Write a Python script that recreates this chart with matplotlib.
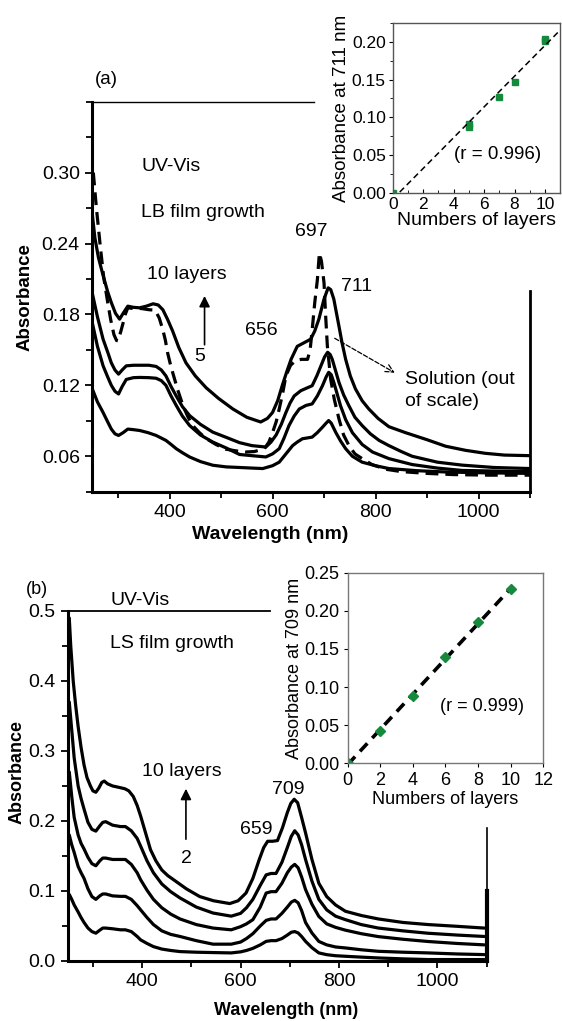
import numpy as np
import matplotlib
matplotlib.use('Agg')
import matplotlib.pyplot as plt
from matplotlib.ticker import MultipleLocator

plt.rcParams['font.family'] = ['Liberation Sans', 'DejaVu Sans']

# ---------------- panel (a): LB films 5, 7, 8, 10 layers + solution ----------------
wl_a10 = [250, 255, 262, 271, 280, 287, 295, 303, 310, 319, 330, 342, 355, 368, 378, 387,
          396, 406, 418, 432, 450, 471, 495, 523, 550, 577, 590, 600, 610, 619, 628, 636,
          648, 661, 674, 682, 690, 700, 708, 713, 719, 729, 735, 742, 751, 761, 774, 787,
          805, 826, 858, 900, 936, 975, 1013, 1050, 1100]
abs_a10 = [0.265, 0.245, 0.228, 0.213, 0.199, 0.190, 0.181, 0.176, 0.181, 0.187, 0.186,
           0.1856, 0.187, 0.189, 0.188, 0.184, 0.176, 0.166, 0.152, 0.139, 0.128, 0.118,
           0.109, 0.100, 0.093, 0.089, 0.092, 0.097, 0.107, 0.120, 0.132, 0.142, 0.153,
           0.156, 0.159, 0.166, 0.176, 0.193, 0.2025, 0.201, 0.193, 0.170, 0.156, 0.142,
           0.128, 0.117, 0.107, 0.100, 0.092, 0.085, 0.080, 0.074, 0.0685, 0.065, 0.0625,
           0.061, 0.0605]

wl_a8 = [250, 260, 271, 280, 287, 294, 301, 308, 316, 330, 342, 360, 374, 384, 393, 403,
         413, 425, 439, 460, 484, 510, 536, 560, 587, 597, 607, 617, 626, 634, 642, 655,
         677, 686, 694, 701, 707, 712, 716, 722, 729, 738, 748, 760, 774, 790, 807, 826,
         850, 871, 920, 968, 1030, 1100]
abs_a8 = [0.198, 0.178, 0.159, 0.148, 0.139, 0.133, 0.1295, 0.133, 0.1365, 0.137, 0.137,
          0.137, 0.136, 0.133, 0.128, 0.119, 0.111, 0.102, 0.0944, 0.087, 0.0804, 0.076,
          0.0715, 0.069, 0.0678, 0.072, 0.078, 0.087, 0.097, 0.105, 0.111, 0.1155, 0.1197,
          0.128, 0.1365, 0.144, 0.148, 0.146, 0.142, 0.133, 0.1225, 0.112, 0.103, 0.093,
          0.086, 0.079, 0.0734, 0.069, 0.064, 0.060, 0.055, 0.0525, 0.0505, 0.0496]

wl_a7 = [250, 260, 271, 280, 287, 294, 301, 308, 316, 330, 342, 360, 374, 384, 393, 403,
         413, 425, 439, 460, 484, 510, 536, 560, 587, 600, 613, 622, 632, 642, 652, 665,
         677, 687, 697, 704, 709, 714, 719, 726, 732, 742, 755, 774, 794, 826, 871, 920,
         968, 1030, 1100]
abs_a7 = [0.173, 0.153, 0.1365, 0.127, 0.120, 0.115, 0.1127, 0.119, 0.125, 0.1265, 0.1267,
          0.1265, 0.126, 0.124, 0.120, 0.111, 0.103, 0.094, 0.086, 0.078, 0.072, 0.067,
          0.0615, 0.0605, 0.0594, 0.062, 0.0664, 0.075, 0.086, 0.094, 0.100, 0.103,
          0.1043, 0.111, 0.1197, 0.127, 0.131, 0.129, 0.1225, 0.112, 0.1028, 0.091, 0.080,
          0.070, 0.0636, 0.058, 0.053, 0.050, 0.048, 0.0475, 0.047]

wl_a5 = [250, 260, 271, 280, 287, 294, 301, 310, 319, 330, 342, 358, 374, 393, 403, 413,
         425, 439, 460, 484, 510, 536, 560, 581, 600, 613, 626, 639, 648, 658, 677, 687,
         697, 704, 709, 714, 723, 732, 742, 755, 774, 800, 826, 880, 936, 1010, 1100]
abs_a5 = [0.117, 0.106, 0.097, 0.089, 0.083, 0.079, 0.0776, 0.080, 0.083, 0.0825, 0.0818,
          0.080, 0.0776, 0.0734, 0.070, 0.0664, 0.063, 0.0594, 0.0555, 0.0524, 0.051,
          0.0505, 0.050, 0.0496, 0.052, 0.055, 0.062, 0.069, 0.072, 0.0748, 0.0762, 0.080,
          0.0846, 0.088, 0.0902, 0.088, 0.080, 0.073, 0.0664, 0.060, 0.055, 0.052, 0.0496,
          0.0478, 0.0467, 0.046, 0.0455]

wl_sol = [252, 258, 265, 272, 280, 286, 292, 297, 300, 305, 310, 314, 319, 330, 345, 360,
          372, 380, 387, 392, 396, 401, 406, 416, 426, 435, 445, 458, 471, 490, 509, 530,
          548, 565, 584, 593, 600, 607, 613, 620, 626, 635, 645, 656, 668, 673, 677, 682,
          687, 691, 695, 700, 703, 706.5, 710, 713, 720, 729, 738, 748.5, 760, 774, 793,
          820, 850, 900, 950, 1020, 1100]
abs_sol = [0.300, 0.270, 0.240, 0.212, 0.190, 0.175, 0.163, 0.158, 0.1576, 0.165, 0.173,
           0.180, 0.1856, 0.185, 0.185, 0.184, 0.1836, 0.177, 0.167, 0.158, 0.148, 0.139,
           0.131, 0.116, 0.103, 0.094, 0.086, 0.080, 0.075, 0.070, 0.066, 0.0645, 0.0636,
           0.064, 0.0664, 0.072, 0.080, 0.089, 0.100, 0.114, 0.128, 0.137, 0.141, 0.142,
           0.142, 0.150, 0.167, 0.190, 0.209, 0.232, 0.225, 0.2067, 0.180, 0.153, 0.138,
           0.125, 0.108, 0.0916, 0.078, 0.069, 0.062, 0.058, 0.053, 0.049, 0.047, 0.0455,
           0.0445, 0.044, 0.044]

layers_a = [0, 5, 5, 7, 8, 10, 10]
abs711 = [0.0, 0.088, 0.091, 0.127, 0.147, 0.201, 0.204]

# ---------------- panel (b): LS films 2, 4, 6, 8, 10 layers ----------------
wl_b10 = [252, 255, 260, 265, 270, 276, 282, 288, 295, 300, 306, 312, 318, 323, 330, 340,
          356, 365, 373, 382, 390, 397, 407, 417, 428, 440, 452, 464, 490, 517, 545, 578,
          595, 611, 625, 638, 647, 655, 665, 675, 685, 695, 702, 709, 716, 724, 732, 745,
          759, 775, 793, 813, 845, 880, 930, 981, 1040, 1095]
abs_b10 = [0.49, 0.45, 0.40, 0.365, 0.335, 0.305, 0.28, 0.262, 0.25, 0.243, 0.241, 0.247,
           0.255, 0.257, 0.253, 0.250, 0.2475, 0.246, 0.243, 0.235, 0.222, 0.207, 0.183,
           0.159, 0.143, 0.130, 0.122, 0.116, 0.103, 0.092, 0.086, 0.082, 0.086, 0.097,
           0.118, 0.145, 0.162, 0.171, 0.171, 0.172, 0.190, 0.212, 0.225, 0.231, 0.226,
           0.205, 0.183, 0.145, 0.111, 0.092, 0.080, 0.071, 0.065, 0.060, 0.055, 0.052,
           0.0495, 0.047]

wl_b = [252, 257, 262, 270, 276, 282, 290, 298, 306, 314, 320, 326, 340, 356, 366, 378,
        390, 397, 410, 423, 440, 458, 477, 510, 544, 581, 600, 612, 625, 640, 652, 662,
        672, 684, 695, 703, 710, 717, 724, 732, 745, 759, 775, 793, 813, 845, 880, 930,
        981, 1040, 1095]
abs_b8 = [0.37, 0.33, 0.29, 0.25, 0.232, 0.217, 0.198, 0.188, 0.1855, 0.193, 0.198, 0.199,
          0.194, 0.192, 0.192, 0.186, 0.175, 0.164, 0.143, 0.126, 0.110, 0.099, 0.090,
          0.077, 0.0685, 0.064, 0.068, 0.076, 0.088, 0.108, 0.123, 0.125, 0.125, 0.141,
          0.162, 0.178, 0.186, 0.180, 0.166, 0.145, 0.114, 0.088, 0.073, 0.064, 0.059,
          0.052, 0.047, 0.043, 0.0396, 0.037, 0.035]
abs_b6 = [0.27, 0.235, 0.205, 0.18, 0.168, 0.160, 0.148, 0.139, 0.136, 0.143, 0.147, 0.147,
          0.145, 0.145, 0.145, 0.138, 0.126, 0.116, 0.101, 0.088, 0.076, 0.067, 0.060,
          0.052, 0.047, 0.0445, 0.049, 0.053, 0.059, 0.077, 0.097, 0.099, 0.099, 0.111,
          0.126, 0.134, 0.138, 0.133, 0.120, 0.102, 0.081, 0.0636, 0.053, 0.048, 0.044,
          0.039, 0.0348, 0.031, 0.0278, 0.025, 0.023]
abs_b4 = [0.18, 0.166, 0.155, 0.135, 0.126, 0.118, 0.103, 0.092, 0.088, 0.093, 0.0957,
          0.0957, 0.093, 0.0923, 0.0923, 0.088, 0.079, 0.073, 0.062, 0.052, 0.043, 0.038,
          0.035, 0.029, 0.024, 0.024, 0.027, 0.032, 0.039, 0.050, 0.058, 0.060, 0.060,
          0.068, 0.077, 0.084, 0.0866, 0.083, 0.072, 0.055, 0.040, 0.0279, 0.023, 0.020,
          0.0186, 0.016, 0.0138, 0.0125, 0.0115, 0.010, 0.0091]
abs_b2 = [0.095, 0.088, 0.080, 0.070, 0.062, 0.055, 0.047, 0.042, 0.0397, 0.044, 0.047,
          0.047, 0.046, 0.0445, 0.0445, 0.042, 0.035, 0.0301, 0.025, 0.0205, 0.017, 0.015,
          0.0134, 0.0125, 0.012, 0.0115, 0.013, 0.015, 0.018, 0.023, 0.028, 0.029, 0.029,
          0.032, 0.037, 0.041, 0.042, 0.040, 0.035, 0.028, 0.019, 0.0115, 0.009, 0.0075,
          0.0067, 0.0055, 0.0043, 0.003, 0.002, 0.002, 0.002]

layers_b = [0, 2, 4, 6, 8, 10]
abs709 = [0.0, 0.043, 0.088, 0.139, 0.185, 0.228]

green = '#168a3c'
lw = 2.3
fs = 14

fig = plt.figure(figsize=(5.62, 10.21), dpi=100)

# ================= (a) =================
ax = fig.add_axes([0.1642, 0.5184, 0.7789, 0.382])
for w, a in [(wl_a10, abs_a10), (wl_a8, abs_a8), (wl_a7, abs_a7), (wl_a5, abs_a5)]:
    ax.plot(w, a, 'k-', lw=lw, solid_joinstyle='round', solid_capstyle='round')
ax.plot(wl_sol, abs_sol, 'k--', lw=lw, dashes=(4, 2.2))
ax.set_xlim(250, 1100)
ax.set_ylim(0.03, 0.36)
ax.set_yticks([0.06, 0.12, 0.18, 0.24, 0.30])
ax.set_yticklabels(['0.06', '0.12', '0.18', '0.24', '0.30'])
ax.set_xticks([400, 600, 800, 1000])
ax.xaxis.set_minor_locator(MultipleLocator(100))
ax.yaxis.set_minor_locator(MultipleLocator(0.03))
ax.tick_params(which='both', direction='out', labelsize=fs, width=1.3, pad=4)
ax.tick_params(which='major', length=5)
ax.tick_params(which='minor', length=4)
for s in ['top', 'right']:
    ax.spines[s].set_visible(False)
for s in ['left', 'bottom']:
    ax.spines[s].set_linewidth(2.2)
ax.plot([250, 680], [0.36, 0.36], 'k-', lw=1, clip_on=False)
ax.plot([1100, 1100], [0.03, 0.20], 'k-', lw=2, clip_on=False)
ax.set_xlabel('Wavelength (nm)', fontsize=14, fontweight='bold')
ax.xaxis.set_label_coords(0.406, -0.088)
ax.set_ylabel('Absorbance', fontsize=13.5, fontweight='bold', labelpad=6)

ax.text(345, 0.305, 'UV-Vis', fontsize=fs, va='center')
ax.text(345, 0.266, 'LB film growth', fontsize=fs, va='center')
ax.text(433, 0.2137, '10 layers', fontsize=fs, ha='center', va='center')
ax.annotate('', xy=(468, 0.198), xytext=(468, 0.152),
            arrowprops=dict(arrowstyle='-|>', lw=1.2, color='k', mutation_scale=16))
ax.text(458, 0.144, '5', fontsize=fs, ha='center', va='center')
ax.text(579, 0.166, '656', fontsize=fs, ha='center', va='center')
ax.text(675, 0.250, '697', fontsize=fs, ha='center', va='center')
ax.text(764, 0.204, '711', fontsize=fs, ha='center', va='center')
ax.annotate('', xy=(842, 0.1295), xytext=(716, 0.161),
            arrowprops=dict(arrowstyle='->', lw=0.9, ls='--', color='k', mutation_scale=14))
ax.text(858, 0.125, 'Solution (out', fontsize=fs, va='center')
ax.text(858, 0.106, 'of scale)', fontsize=fs, va='center')
fig.text(106 / 562, 1 - 80 / 1021, '(a)', fontsize=13.5, ha='center', va='center')

# inset (a)
ia = fig.add_axes([0.6988, 0.8107, 0.298, 0.1671])
ia.plot(layers_a, abs711, 's', color=green, ms=5)
k, b = np.polyfit(layers_a, abs711, 1)
fx = np.array([0, 11])
ia.plot(fx, k * fx + b, 'k--', lw=1.1, dashes=(4, 2.5))
ia.set_xlim(0, 11)
ia.set_ylim(0, 0.225)
ia.set_xticks([0, 2, 4, 6, 8, 10])
ia.set_yticks([0, 0.05, 0.10, 0.15, 0.20])
ia.set_yticklabels(['0.00', '0.05', '0.10', '0.15', '0.20'])
ia.xaxis.set_minor_locator(MultipleLocator(1))
ia.yaxis.set_minor_locator(MultipleLocator(0.025))
ia.tick_params(axis='x', which='both', direction='in', labelsize=12.5, pad=3)
ia.tick_params(axis='y', which='both', direction='out', labelsize=12.5, pad=2)
ia.tick_params(which='major', length=3)
ia.tick_params(which='minor', length=2)
for s in ia.spines.values():
    s.set_color('#555555')
    s.set_linewidth(1)
ia.set_xlabel('Numbers of layers', fontsize=14, labelpad=0)
ia.set_ylabel('Absorbance at 711 nm', fontsize=13.5, labelpad=1)
ia.text(6.9, 0.051, '(r = 0.996)', fontsize=13.5, ha='center', va='center')

# ================= (b) =================
bx = fig.add_axes([0.1215, 0.0588, 0.7445, 0.3428])
bx.plot(wl_b10, abs_b10, 'k-', lw=lw, solid_joinstyle='round', solid_capstyle='round')
for a in [abs_b8, abs_b6, abs_b4, abs_b2]:
    bx.plot(wl_b, a, 'k-', lw=lw, solid_joinstyle='round', solid_capstyle='round')
bx.set_xlim(250, 1100)
bx.set_ylim(0, 0.5)
bx.set_yticks([0.0, 0.1, 0.2, 0.3, 0.4, 0.5])
bx.set_yticklabels(['0.0', '0.1', '0.2', '0.3', '0.4', '0.5'])
bx.set_xticks([400, 600, 800, 1000])
bx.xaxis.set_minor_locator(MultipleLocator(100))
bx.yaxis.set_minor_locator(MultipleLocator(0.05))
bx.tick_params(which='both', direction='out', labelsize=fs, width=1.3, pad=4)
bx.tick_params(which='major', length=5)
bx.tick_params(which='minor', length=4)
for s in ['top', 'right']:
    bx.spines[s].set_visible(False)
for s in ['left', 'bottom']:
    bx.spines[s].set_linewidth(2.2)
bx.plot([250, 660], [0.5, 0.5], 'k-', lw=1.3, clip_on=False)
bx.plot([1100, 1100], [0, 0.19], 'k-', lw=1.2, clip_on=False)
bx.plot([1100, 1100], [0, 0.10], 'k-', lw=3, clip_on=False)
bx.set_xlabel('Wavelength (nm)', fontsize=13, fontweight='bold')
bx.xaxis.set_label_coords(0.52, -0.118)
bx.set_ylabel('Absorbance', fontsize=13, fontweight='bold')
bx.yaxis.set_label_coords(-0.102, 0.54)

bx.text(335, 0.515, 'UV-Vis', fontsize=fs, va='center')
bx.text(335, 0.453, 'LS film growth', fontsize=fs, va='center')
bx.text(480, 0.270, '10 layers', fontsize=fs, ha='center', va='center')
bx.annotate('', xy=(489, 0.250), xytext=(489, 0.170),
            arrowprops=dict(arrowstyle='-|>', lw=1.2, color='k', mutation_scale=16))
bx.text(491, 0.147, '2', fontsize=fs, ha='center', va='center')
bx.text(632, 0.188, '659', fontsize=fs, ha='center', va='center')
bx.text(697, 0.245, '709', fontsize=fs, ha='center', va='center')
fig.text(37 / 562, 1 - 590 / 1021, '(b)', fontsize=13, ha='center', va='center')

# inset (b)
ib = fig.add_axes([0.6187, 0.2524, 0.348, 0.1867])
k2, b2 = np.polyfit(layers_b, abs709, 1)
fx2 = np.array([0, 10])
ib.plot(fx2, k2 * fx2 + b2, 'k--', lw=2.6, dashes=(3, 2))
ib.plot(layers_b, abs709, 'D', color=green, ms=5)
ib.set_xlim(0, 12)
ib.set_ylim(0, 0.25)
ib.set_xticks([0, 2, 4, 6, 8, 10, 12])
ib.set_yticks([0, 0.05, 0.10, 0.15, 0.20, 0.25])
ib.set_yticklabels(['0.00', '0.05', '0.10', '0.15', '0.20', '0.25'])
ib.tick_params(which='both', direction='out', labelsize=13, length=3, pad=3)
for s in ib.spines.values():
    s.set_color('#777777')
    s.set_linewidth(1)
ib.set_xlabel('Numbers of layers', fontsize=13, labelpad=2)
ib.set_ylabel('Absorbance at 709 nm', fontsize=13, labelpad=1)
ib.text(8.25, 0.075, '(r = 0.999)', fontsize=13, ha='center', va='center')

plt.savefig('out.png', dpi=100)
